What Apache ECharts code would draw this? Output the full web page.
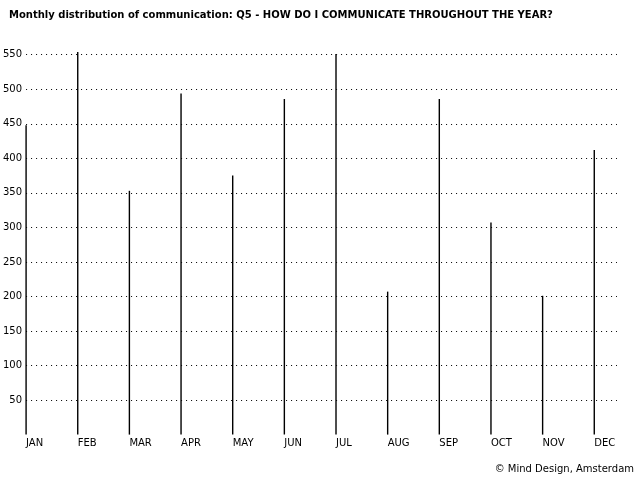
<!DOCTYPE html>
<html>
<head>
<meta charset="utf-8">
<script src="https://cdn.jsdelivr.net/npm/echarts@6/dist/echarts.min.js"></script>
<style>
  html, body { margin: 0; padding: 0; background: #fff; }
  #chart { width: 640px; height: 480px; }
</style>
</head>
<body>
<div id="chart"></div>
<script>
var months = ['JAN','FEB','MAR','APR','MAY','JUN','JUL','AUG','SEP','OCT','NOV','DEC'];
var counts = [448, 554, 353, 494, 375, 486, 551, 207, 486, 307, 201, 412];
var yTicks = [50, 100, 150, 200, 250, 300, 350, 400, 450, 500, 550];

var chart = echarts.init(document.getElementById('chart'), null, {renderer: 'canvas'});

var font = 'DejaVu Sans, Verdana, sans-serif';

var option = {
    backgroundColor: '#ffffff',
    animation: false,
    title: {
        text: 'Monthly distribution of communication: Q5 - HOW DO I COMMUNICATE THROUGHOUT THE YEAR?',
        left: 4,
        top: 5,
        textStyle: { fontFamily: font, fontSize: 10, fontWeight: 'bold', color: '#000' }
    },
    graphic: [{
        type: 'text',
        right: 6,
        top: 464,
        style: { text: '\u00a9 Mind Design, Amsterdam', font: '10px ' + font, fill: '#000' }
    }],
    grid: { left: 25.5, right: 23, top: 50.6, bottom: 45.4 },
    xAxis: {
        type: 'value',
        min: 0,
        max: 11.44,
        interval: 1,
        axisLine: { show: false },
        axisTick: { show: false },
        splitLine: { show: false },
        axisLabel: {
            align: 'left',
            margin: 4,
            fontFamily: font,
            fontSize: 10,
            color: '#000',
            showMaxLabel: false,
            formatter: function (v) {
                return Number.isInteger(v) && months[v] ? months[v] : '';
            }
        }
    },
    yAxis: {
        type: 'value',
        min: 0,
        max: 556,
        interval: 50,
        axisLine: { show: false },
        axisTick: { show: false },
        axisLabel: {
            margin: 4,
            fontFamily: font,
            fontSize: 10,
            color: '#000',
            showMaxLabel: false,
            formatter: function (v) {
                return yTicks.indexOf(v) >= 0 ? String(v) : '';
            }
        },
        splitLine: {
            show: true,
            showMinLine: false,
            showMaxLine: false,
            lineStyle: { color: '#000', width: 1, type: [1, 4] }
        }
    },
    series: [{
        type: 'bar',
        barWidth: 1.4,
        itemStyle: { color: '#000' },
        data: counts.map(function (v, i) { return [i, v]; })
    }]
};
chart.setOption(option);
</script>
</body>
</html>
